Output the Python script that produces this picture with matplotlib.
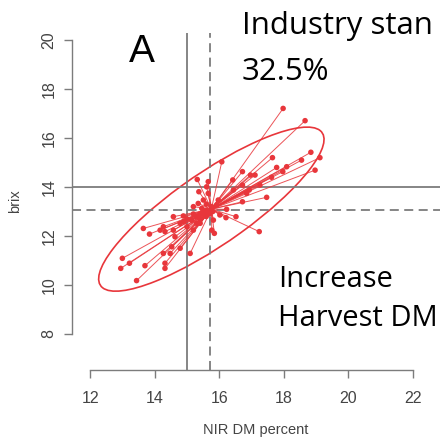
import numpy as np
import matplotlib
matplotlib.use("Agg")
import matplotlib.pyplot as plt
from matplotlib.patches import Ellipse

# =========================
# Data
# =========================

nir_dm = [17.98, 18.66, 18.84, 19.12, 18.55, 18.97, 17.65, 17.97, 17.78, 17.62,
          17.47, 17.24, 16.08, 16.72, 16.97, 17.11, 16.42, 16.72, 16.93, 16.72,
          17.26, 15.32, 15.66, 15.66, 15.37, 15.51, 15.20, 15.97, 16.21, 16.52,
          16.23, 15.85, 15.77, 15.10, 14.79, 14.53, 14.48, 14.27, 14.32, 14.32,
          13.70, 13.44, 13.22, 13.00, 12.95, 13.65, 13.84, 14.27, 14.32, 14.58,
          14.63, 14.58, 14.89, 14.79, 15.00, 15.15, 15.30, 15.41, 15.20, 15.46,
          15.35, 15.92, 15.61, 15.51, 15.77, 16.02, 15.82, 15.30, 14.17, 16.85,
          16.44, 18.09, 15.61, 15.40, 15.60, 15.50, 15.70, 15.20, 15.00, 14.90,
          15.60, 15.80, 15.40]
brix = [17.21, 16.71, 15.42, 15.20, 15.10, 14.69, 15.20, 14.63, 14.80, 14.40,
        13.58, 12.18, 15.03, 14.63, 14.49, 14.49, 14.29, 14.08, 13.88, 13.40,
        14.08, 14.31, 14.22, 13.74, 13.81, 13.47, 13.20, 13.47, 12.75, 12.79,
        13.09, 12.11, 12.24, 11.29, 11.50, 11.56, 11.29, 11.29, 10.89, 10.68,
        10.79, 10.18, 10.89, 11.09, 10.68, 12.31, 12.08, 12.38, 12.18, 12.24,
        11.97, 12.79, 12.82, 12.52, 12.38, 12.65, 12.79, 12.52, 12.24, 13.13,
        13.33, 13.27, 13.06, 12.93, 13.20, 12.86, 12.65, 12.52, 12.24, 13.74,
        13.88, 14.83, 14.01, 12.90, 12.80, 13.00, 12.90, 12.90, 12.70, 12.60,
        13.30, 13.00, 12.70]

industry_dm = 15.0
industry_brix = 14.0
mean_dm_line = 15.7
mean_brix_line = 13.05

x_ticks = [12, 14, 16, 18, 20, 22]
y_ticks = [8, 10, 12, 14, 16, 18, 20]

red = "#e8363b"
grey = "#7c7c7c"
label_grey = "#444444"

x = np.array(nir_dm)
y = np.array(brix)
cx, cy = x.mean(), y.mean()

# =========================
# Plot
# =========================

plt.rcParams["font.family"] = ["Liberation Sans", "DejaVu Sans"]

fig = plt.figure(figsize=(4.4, 4.4), dpi=100)
ax = fig.add_axes([72 / 440, 70 / 440, 368 / 440, 337 / 440])

ax.set_xlim(11.44, 22.84)
ax.set_ylim(6.53, 20.29)

# reference lines
ax.axvline(industry_dm, color=grey, lw=1.3)
ax.axhline(industry_brix, color=grey, lw=1.3)
ax.axvline(mean_dm_line, color=grey, lw=1.3, ls=(0, (5, 3)))
ax.axhline(mean_brix_line, color=grey, lw=1.3, ls=(0, (5, 3)))

# spokes from the centre to every point
for xi, yi in zip(x, y):
    ax.plot([cx, xi], [cy, yi], color=red, lw=0.7, alpha=0.85)
ax.scatter(x, y, s=16, color=red, zorder=3, edgecolors="none")

# covariance ellipse
cov = np.cov(x, y)
vals, vecs = np.linalg.eigh(cov)
k = 2.5
angle = np.degrees(np.arctan2(vecs[1, 1], vecs[0, 1]))
ell = Ellipse((cx, cy), 2 * k * np.sqrt(vals[1]), 2 * k * np.sqrt(vals[0]),
              angle=angle, fill=False, edgecolor=red, lw=1.2)
ax.add_patch(ell)

# R-style axes
for s in ["top", "right"]:
    ax.spines[s].set_visible(False)
ax.spines["left"].set_bounds(8, 20)
ax.spines["bottom"].set_bounds(12, 22)
for s in ["left", "bottom"]:
    ax.spines[s].set_color(grey)
    ax.spines[s].set_linewidth(1.0)

ax.set_xticks(x_ticks)
ax.set_yticks(y_ticks)
ax.tick_params(colors=grey, labelcolor=label_grey, length=6, width=1.0,
               labelsize=11.5)
ax.tick_params(axis="x", pad=9)
ax.tick_params(axis="y", pad=5)
plt.setp(ax.get_yticklabels(), rotation=90, va="center")

ax.set_xlabel("NIR DM percent", fontsize=10.5, color=label_grey, labelpad=12)
ax.set_ylabel("brix", fontsize=10.5, color=label_grey, labelpad=14)

# annotations
fig.text(142 / 440, 1 - 52 / 440, "A", fontsize=28, ha="center", va="center")
fig.text(242 / 440, 1 - 34 / 440, "Industry stan", fontsize=22.5,
         family="Open Sans", va="baseline")
fig.text(242 / 440, 1 - 80 / 440, "32.5%", fontsize=22.5, family="Open Sans",
         va="baseline")
fig.text(278 / 440, 1 - 287 / 440, "Increase", fontsize=21,
         family="Open Sans", va="baseline")
fig.text(278 / 440, 1 - 326 / 440, "Harvest DM", fontsize=21,
         family="Open Sans", va="baseline")

fig.savefig("out.png", dpi=100)
